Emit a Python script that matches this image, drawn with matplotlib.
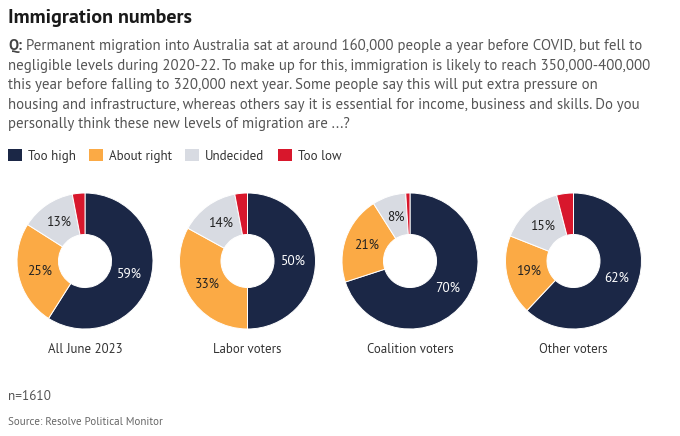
import numpy as np
import matplotlib.pyplot as plt
from matplotlib.patches import Patch

W, H = 680, 436
plt.rcParams["font.family"] = ["PT Sans", "DejaVu Sans"]

title = "Immigration numbers"
question_lines = [
    "Permanent migration into Australia sat at around 160,000 people a year before COVID, but fell to",
    "negligible levels during 2020-22. To make up for this, immigration is likely to reach 350,000-400,000",
    "this year before falling to 320,000 next year. Some people say this will put extra pressure on",
    "housing and infrastructure, whereas others say it is essential for income, business and skills. Do you",
    "personally think these new levels of migration are ...?",
]
answers = ["Too high", "About right", "Undecided", "Too low"]
colors = ["#1b2746", "#fbaa45", "#d8dbe2", "#d8172c"]
groups = ["All June 2023", "Labor voters", "Coalition voters", "Other voters"]
too_high = [59, 50, 70, 62]
about_right = [25, 33, 21, 19]
undecided = [13, 14, 8, 15]
too_low = [3, 3, 1, 4]

fig = plt.figure(figsize=(W / 100, H / 100), dpi=100)
renderer = fig.canvas.get_renderer()

def fx(x):
    return x / W

def fy(y):
    return 1 - y / H

fig.text(fx(8), fy(18), title, fontsize=14.4, fontweight="bold", color="#1a1a1a", va="center")

# question: bold "Q:" then the text
q = fig.text(fx(8), fy(46), "Q:", fontsize=10.7, fontweight="bold", color="#444444", va="center")
qx = q.get_window_extent(renderer).x1 + 4
for k, line in enumerate(question_lines):
    x0 = qx / W if k == 0 else fx(8)
    fig.text(x0, fy(46 + 19.6 * k), line, fontsize=10.7, color="#555555", va="center")

handles = [Patch(facecolor=c, edgecolor="none") for c in colors]
fig.legend(handles, answers, loc="center left", bbox_to_anchor=(fx(8), fy(156)), ncol=4, frameon=False,
           borderpad=0, borderaxespad=0, handlelength=1.05, handleheight=1.05, handletextpad=0.45,
           columnspacing=1.05, fontsize=9.4, labelcolor="#333333")

centers = [85, 247.5, 410, 573.5]
R = 68
cy = 261
for i, g in enumerate(groups):
    ax = fig.add_axes([fx(centers[i] - R), fy(cy + R), 2 * R / W, 2 * R / H])
    vals = [too_high[i], about_right[i], undecided[i], too_low[i]]
    ax.pie(vals, colors=colors, startangle=90, counterclock=False, radius=1,
           wedgeprops=dict(width=0.61, edgecolor="white", linewidth=0.7))
    start = 90
    for j, v in enumerate(vals[:3]):
        mid = np.deg2rad(start - v * 3.6 / 2)
        start -= v * 3.6
        ax.text(0.68 * np.cos(mid), 0.68 * np.sin(mid), f"{v}%", ha="center", va="center", fontsize=9.6,
                color="white" if j == 0 else "#222222")
    ax.set_xlim(-1, 1)
    ax.set_ylim(-1, 1)
    fig.text(fx(centers[i]), fy(349), g, ha="center", va="center", fontsize=9.3, color="#333333")

fig.text(fx(8), fy(396), "n=1610", fontsize=9.5, color="#555555", va="center")
fig.text(fx(8), fy(422), "Source: Resolve Political Monitor", fontsize=7.9, color="#666666", va="center")

fig.savefig("out.png", dpi=100)
